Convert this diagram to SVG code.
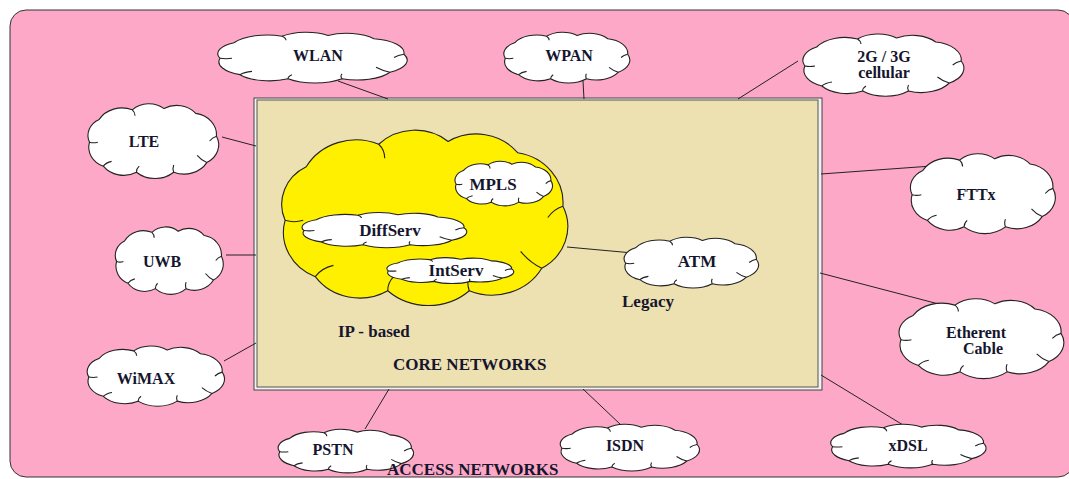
<svg xmlns="http://www.w3.org/2000/svg" xmlns:xlink="http://www.w3.org/1999/xlink" width="1069" height="479" viewBox="0 0 1069 479">
<style>
.cl{stroke:#222;stroke-width:1.1;}
.cr{fill:none;stroke:#222;stroke-width:1.1;}
.w{fill:#fff;}
.y{fill:#FFF000;}
.t{font-family:"Liberation Serif","Times New Roman",serif;font-weight:bold;font-size:16px;fill:#15152e;text-anchor:middle;}
.ti{font-size:17px;}
.l{text-anchor:start;}
.cn{stroke:#222;stroke-width:1;fill:none;}
</style>
<defs>
<g id="cloud">
<path class="cl" vector-effect="non-scaling-stroke" d="M4,31 A15,15 0 0 1 11,12 A19,19 0 0 1 35,4 A17,17 0 0 1 58,3 A17.5,17.5 0 0 1 81,7 A18,18 0 0 1 96,26 A17,17 0 0 1 89,48 A19,19 0 0 1 65,56 A20,20 0 0 1 38,56 A18,18 0 0 1 14,51 A17,17 0 0 1 4,31 Z"/>
<path class="cr" vector-effect="non-scaling-stroke" d="M14,51 q2,-3 6,-4 M38,56 q0,-3 2,-5 M65,56 q-1,-3 0,-6 M89,48 q-4,-2 -7,-6 M96,26 q-3,1 -5,4 M35,4 q2,2 2,5 M4,31 q3,1 6,0"/>
</g>
</defs>
<rect width="1069" height="479" fill="#fff"/>
<rect id="access" x="10" y="10" width="1064" height="467" rx="16" fill="#FDA8C6" stroke="#333" stroke-width="1"/>
<g id="core">
<rect x="254" y="98" width="568" height="292" fill="#f2f2f2" stroke="#444" stroke-width="1"/>
<rect x="257" y="100" width="561" height="287" fill="#EDE0B1" stroke="#555" stroke-width="1"/>
</g>
<g id="connectors">
<line class="cn" x1="338" y1="81" x2="388" y2="99"/>
<line class="cn" x1="583" y1="81" x2="584" y2="99"/>
<line class="cn" x1="798" y1="61" x2="738" y2="99"/>
<line class="cn" x1="222" y1="137" x2="256" y2="146"/>
<line class="cn" x1="821" y1="174" x2="932" y2="166"/>
<line class="cn" x1="226" y1="255" x2="256" y2="255"/>
<line class="cn" x1="224" y1="361" x2="256" y2="343"/>
<line class="cn" x1="365" y1="429" x2="389" y2="389"/>
<line class="cn" x1="583" y1="389" x2="621" y2="425"/>
<line class="cn" x1="821" y1="375" x2="908" y2="428"/>
<line class="cn" x1="820" y1="273" x2="954" y2="308"/>
<line class="cn" x1="567" y1="247" x2="633" y2="253"/>
</g>
<g id="ip-cloud"><use xlink:href="#cloud" class="y" transform="translate(273,133) scale(3.02,2.817)"/></g>
<g id="wlan"><use xlink:href="#cloud" class="w" transform="translate(212,33) scale(2.0,0.817)"/><text class="t" x="318" y="61">WLAN</text></g>
<g id="wpan"><use xlink:href="#cloud" class="w" transform="translate(500,33) scale(1.33,0.817)"/><text class="t" x="569" y="61">WPAN</text></g>
<g id="cellular"><use xlink:href="#cloud" class="w" transform="translate(798,35) scale(1.7,1.0)"/><text class="t" x="884" y="62">2G / 3G</text><text class="t" x="884" y="78">cellular</text></g>
<g id="lte"><use xlink:href="#cloud" class="w" transform="translate(84,105) scale(1.38,1.2)"/><text class="t" x="144" y="147">LTE</text></g>
<g id="fttx"><use xlink:href="#cloud" class="w" transform="translate(906,155) scale(1.53,1.283)"/><text class="t" x="976" y="200">FTTx</text></g>
<g id="uwb"><use xlink:href="#cloud" class="w" transform="translate(112,228) scale(1.14,1.083)"/><text class="t" x="162" y="267">UWB</text></g>
<g id="wimax"><use xlink:href="#cloud" class="w" transform="translate(83,347) scale(1.45,0.967)"/><text class="t" x="146" y="384">WiMAX</text></g>
<g id="pstn"><use xlink:href="#cloud" class="w" transform="translate(274,430) scale(1.43,0.7)"/><text class="t" x="333" y="455">PSTN</text></g>
<g id="isdn"><use xlink:href="#cloud" class="w" transform="translate(556,425) scale(1.47,0.75)"/><text class="t" x="625" y="451">ISDN</text></g>
<g id="xdsl"><use xlink:href="#cloud" class="w" transform="translate(826,425) scale(1.64,0.7)"/><text class="t" x="908" y="451">xDSL</text></g>
<g id="ethernet"><use xlink:href="#cloud" class="w" transform="translate(894,300) scale(1.74,1.283)"/><text class="t" x="976" y="338">Etherent</text><text class="t" x="983" y="354">Cable</text></g>
<g id="atm"><use xlink:href="#cloud" class="w" transform="translate(620,238) scale(1.42,0.817)"/><text class="t ti" x="697" y="267">ATM</text></g>
<g id="mpls"><use xlink:href="#cloud" class="w" transform="translate(452,162) scale(1.03,0.717)"/><text class="t ti" x="493" y="190">MPLS</text></g>
<g id="diffserv"><use xlink:href="#cloud" class="w" transform="translate(297,213) scale(1.74,0.567)"/><text class="t ti" x="390" y="236">DiffServ</text></g>
<g id="intserv"><use xlink:href="#cloud" class="w" transform="translate(383,258) scale(1.34,0.417)"/><text class="t ti" x="456" y="276">IntServ</text></g>
<g id="labels">
<text class="t ti l" x="622" y="307">Legacy</text>
<text class="t ti l" x="338" y="337">IP - based</text>
<text class="t ti l" x="393" y="370">CORE NETWORKS</text>
<text class="t ti l" x="387" y="475">ACCESS NETWORKS</text>
</g>
</svg>
